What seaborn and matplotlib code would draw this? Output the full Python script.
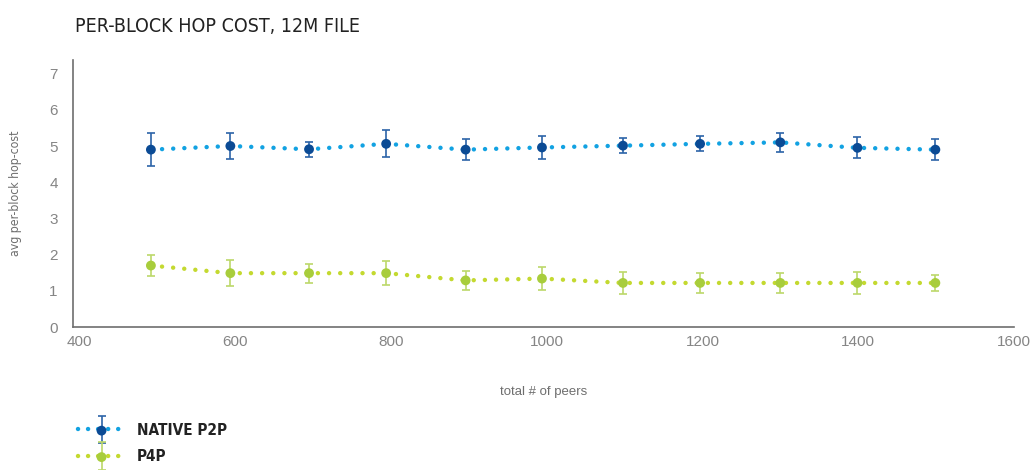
import matplotlib
matplotlib.use("Agg")
import matplotlib.pyplot as plt
from matplotlib.container import ErrorbarContainer
from matplotlib.legend_handler import HandlerTuple, HandlerErrorbar
from matplotlib.lines import Line2D
import seaborn as sns
import pandas as pd

# Number of peers in each run
peers = [492, 594, 695, 794, 896, 994, 1098, 1197, 1300, 1399, 1499]

# Average per-block hop cost and its spread
native_cost = [4.90, 5.00, 4.91, 5.06, 4.90, 4.96, 5.01, 5.06, 5.10, 4.95, 4.90]
native_err = [0.46, 0.35, 0.20, 0.37, 0.28, 0.32, 0.20, 0.21, 0.27, 0.29, 0.28]
p4p_cost = [1.70, 1.49, 1.49, 1.49, 1.29, 1.34, 1.22, 1.22, 1.22, 1.22, 1.22]
p4p_err = [0.29, 0.36, 0.26, 0.34, 0.26, 0.31, 0.30, 0.27, 0.28, 0.31, 0.22]

series_names = ["NATIVE P2P", "P4P"]
x_ticks = [400, 600, 800, 1000, 1200, 1400, 1600]
y_ticks = [0, 1, 2, 3, 4, 5, 6, 7]

df = pd.DataFrame({
    "peers": peers * 2,
    "cost": native_cost + p4p_cost,
    "err": native_err + p4p_err,
    "series": [series_names[0]] * len(peers) + [series_names[1]] * len(peers),
})

line_colors = {"NATIVE P2P": "#12a2e2", "P4P": "#c4d930"}
marker_colors = {"NATIVE P2P": "#0b4b95", "P4P": "#a8cd3c"}
err_colors = {"NATIVE P2P": "#2c64a8", "P4P": "#bcd86a"}

sns.set_theme(style="white")
plt.rcParams["font.family"] = ["Liberation Sans", "DejaVu Sans"]

fig = plt.figure(figsize=(10.34, 4.70), dpi=100)
ax = fig.add_axes([0.0706, 0.304, 0.9101, 0.568])

dot_lw = 3.2
dotted = (0, (0.01, 2.5))
handles = []
for name in series_names:
    sub = df[df["series"] == name]
    sns.lineplot(data=sub, x="peers", y="cost", ax=ax, color=line_colors[name],
                 linewidth=dot_lw, linestyle=dotted, legend=False, zorder=2)
    line = ax.lines[-1]
    line.set_dash_capstyle("round")
    eb = ax.errorbar(sub["peers"], sub["cost"], yerr=sub["err"], fmt="none",
                     ecolor=err_colors[name], elinewidth=1.2, capsize=3,
                     capthick=1.2, zorder=3)
    sns.scatterplot(data=sub, x="peers", y="cost", ax=ax, color=marker_colors[name],
                    s=50, edgecolor="none", legend=False, zorder=4)
    pts = ax.collections[-1]
    handles.append((eb, pts))

ax.set_xlim(392, 1600)
ax.set_ylim(0, 7.37)
ax.set_xticks(x_ticks)
ax.set_yticks(y_ticks)
ax.tick_params(axis="x", length=0, labelsize=11, labelcolor="#858585", pad=6)
ax.tick_params(axis="y", length=0, labelsize=11, labelcolor="#858585", pad=11)
for side in ["top", "right"]:
    ax.spines[side].set_visible(False)
for side in ["left", "bottom"]:
    ax.spines[side].set_color("#6e6e6e")
    ax.spines[side].set_linewidth(1.2)

ax.set_xlabel("total # of peers", fontsize=9.5, color="#6e6e6e", labelpad=26)
ax.set_ylabel("avg per-block hop-cost", fontsize=8.8, color="#6e6e6e",
              fontstretch="condensed", family=["DejaVu Sans"])
ax.yaxis.set_label_coords(-0.054, 0.5)

fig.text(0.0725, 0.932, "PER-BLOCK HOP COST, 12M FILE", fontsize=14,
         color="#222222", va="baseline", ha="left",
         family=["DejaVu Sans"], fontstretch="condensed")

leg_handles = []
for name, (eb, pts) in zip(series_names, handles):
    lh = Line2D([], [], color=line_colors[name], linewidth=dot_lw,
                linestyle=(0, (0.01, 2.25)), dash_capstyle="round")
    leg_handles.append((lh, eb, pts))

leg = fig.legend(leg_handles, series_names, loc="upper left",
                 bbox_to_anchor=(0.062, 0.13), frameon=False,
                 handler_map={tuple: HandlerTuple(ndivide=1, pad=0),
                              ErrorbarContainer: HandlerErrorbar(xerr_size=0.5,
                                                                 yerr_size=0.9)},
                 scatterpoints=1, numpoints=1,
                 handlelength=3.1, handletextpad=0.75, labelspacing=0.75,
                 prop={"family": ["DejaVu Sans"], "stretch": "condensed",
                       "weight": "bold", "size": 11})
for t in leg.get_texts():
    t.set_color("#222222")

fig.savefig("out.png", dpi=100)
